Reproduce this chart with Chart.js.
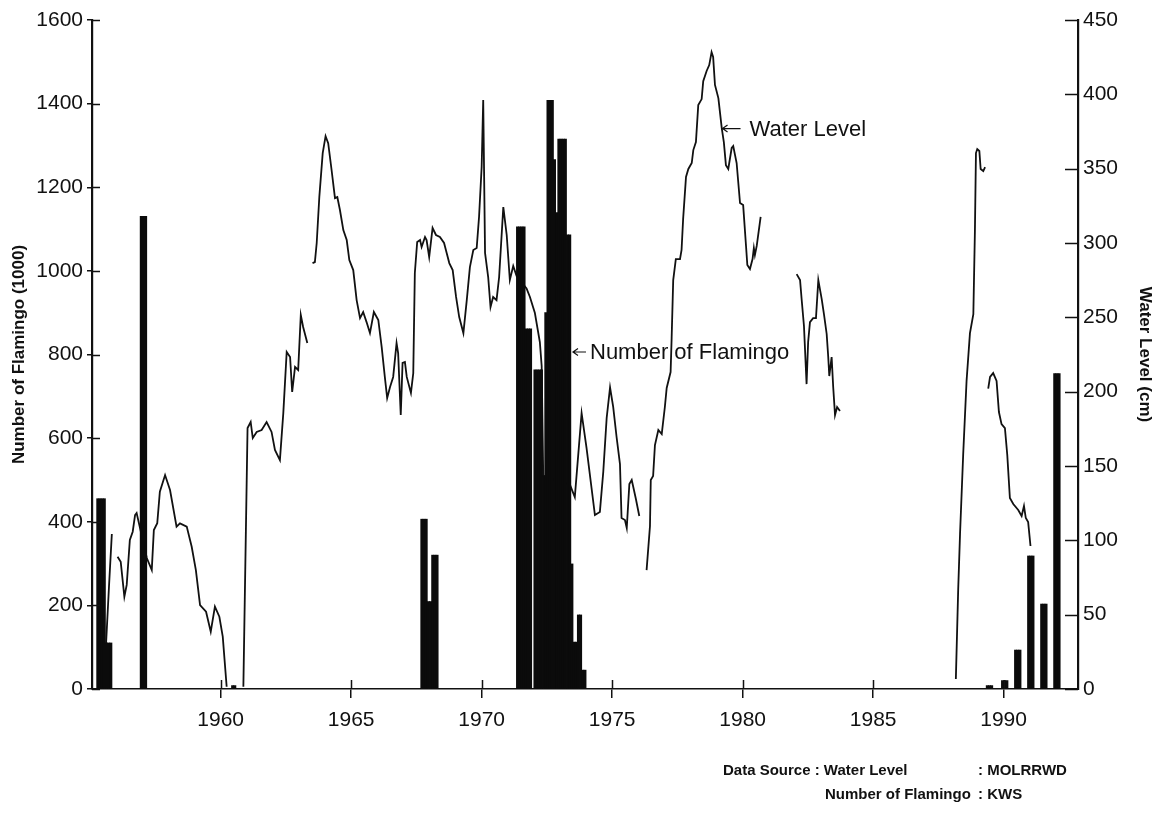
<!DOCTYPE html>
<html>
<head>
<meta charset="utf-8">
<title>Water Level and Number of Flamingo</title>
<script src="https://cdn.jsdelivr.net/npm/chart.js@4.4.0/dist/chart.umd.min.js"></script>
<style>
  html, body { margin: 0; padding: 0; background: #fff; }
  #caixa { position: relative; width: 1157px; height: 815px; }
</style>
</head>
<body>
<div id="caixa"><canvas id="grafico"></canvas></div>
<script>
// Number of flamingo (1000), one bar per surveyed month
const flamingoMonths = [
  '1955-04', '1955-05', '1955-06', '1955-07', '1955-08', '1955-09', '1955-10',
  '1956-12', '1957-01', '1957-02',
  '1960-06', '1960-07',
  '1967-09', '1967-10', '1967-11', '1967-12', '1968-01', '1968-02', '1968-03', '1968-04',
  '1971-05', '1971-06', '1971-07', '1971-08', '1971-09', '1971-10', '1971-11', '1971-12',
  '1972-01', '1972-02', '1972-03', '1972-04', '1972-05', '1972-06', '1972-07', '1972-08',
  '1972-09', '1972-10', '1972-11', '1972-12', '1973-01', '1973-02', '1973-03', '1973-04',
  '1973-05', '1973-06', '1973-07', '1973-08', '1973-09', '1973-10', '1973-11', '1973-12',
  '1989-05', '1989-06', '1989-07', '1989-12', '1990-01', '1990-02',
  '1990-06', '1990-07', '1990-08', '1990-12', '1991-01', '1991-02',
  '1991-06', '1991-07', '1991-08', '1991-12', '1992-01', '1992-02'
];
const flamingoCounts = [
  455, 455, 455, 455, 110, 110, 110,
  1130, 1130, 1130,
  8, 8,
  406, 406, 406, 209, 209, 320, 320, 320,
  1105, 1105, 1105, 1105, 861, 861, 861, 0,
  763, 763, 763, 763, 510, 900, 1408, 1408,
  1408, 1266, 1139, 1315, 1315, 1315, 1315, 1086,
  1086, 299, 112, 112, 177, 177, 45, 45,
  8, 8, 8, 20, 20, 20,
  93, 93, 93, 318, 318, 318,
  203, 203, 203, 754, 754, 754
];

// Water level (cm); a null level marks a break in the record
const waterYears = [
  1955.61, 1955.72, 1955.83, 1955.95,
  1956.05, 1956.17, 1956.31, 1956.40, 1956.52, 1956.63, 1956.72, 1956.78,
  1957.17, 1957.36, 1957.44, 1957.57, 1957.67, 1957.87, 1958.06, 1958.31, 1958.44,
  1958.70, 1958.89, 1959.05, 1959.21, 1959.44, 1959.62, 1959.78, 1959.95, 1960.08, 1960.23,
  1960.50,
  1960.87, 1961.03, 1961.15, 1961.23, 1961.38, 1961.57, 1961.76, 1961.95, 1962.08, 1962.27,
  1962.40, 1962.53, 1962.66, 1962.74, 1962.85, 1962.97, 1963.07, 1963.16, 1963.32,
  1963.42,
  1963.52, 1963.61, 1963.68, 1963.78, 1963.91, 1964.02, 1964.12, 1964.25, 1964.38, 1964.47,
  1964.57, 1964.70, 1964.83, 1964.93, 1965.08, 1965.21, 1965.34, 1965.46, 1965.59, 1965.72,
  1965.87, 1966.04, 1966.17, 1966.29, 1966.38, 1966.49, 1966.61, 1966.74, 1966.80, 1966.90,
  1966.97, 1967.06, 1967.13, 1967.29, 1967.38, 1967.44, 1967.53, 1967.64, 1967.70, 1967.83,
  1967.89, 1967.99, 1968.12, 1968.25, 1968.40, 1968.56, 1968.66, 1968.76, 1968.89, 1969.02,
  1969.14, 1969.30, 1969.43, 1969.55, 1969.68, 1969.81, 1969.90, 1970.00, 1970.06, 1970.13,
  1970.25, 1970.34, 1970.44, 1970.57, 1970.67, 1970.83, 1970.96, 1971.08, 1971.21, 1971.34,
  1971.72, 1971.85, 1972.04, 1972.23, 1972.30, 1972.36,
  1973.38, 1973.57, 1973.83, 1974.02, 1974.34, 1974.53, 1974.66, 1974.79, 1974.92, 1975.04,
  1975.17, 1975.30, 1975.36, 1975.49, 1975.56, 1975.66, 1975.75, 1975.81, 1975.91, 1976.04,
  1976.18,
  1976.32, 1976.45, 1976.48, 1976.57, 1976.64, 1976.77, 1976.90, 1977.02, 1977.09, 1977.24,
  1977.28, 1977.34, 1977.44, 1977.60, 1977.66, 1977.72, 1977.83, 1977.92, 1978.05, 1978.11,
  1978.21, 1978.30, 1978.43, 1978.49, 1978.62, 1978.72, 1978.81, 1978.87, 1978.94, 1979.07,
  1979.20, 1979.28, 1979.36, 1979.45, 1979.58, 1979.64, 1979.77, 1979.90, 1980.02, 1980.13,
  1980.18, 1980.28, 1980.38, 1980.43, 1980.47, 1980.54, 1980.69,
  1981.40,
  1982.07, 1982.20, 1982.26, 1982.35, 1982.45, 1982.51, 1982.58, 1982.70, 1982.81, 1982.90,
  1983.03, 1983.12, 1983.22, 1983.28, 1983.32, 1983.41, 1983.47, 1983.54, 1983.62, 1983.73,
  1986.00,
  1988.17, 1988.26, 1988.33, 1988.45, 1988.58, 1988.71, 1988.84, 1988.90, 1988.94, 1988.99,
  1989.07, 1989.12, 1989.22, 1989.29,
  1989.35,
  1989.41, 1989.48, 1989.60, 1989.73, 1989.82, 1989.92, 1990.05, 1990.14, 1990.24, 1990.37,
  1990.56, 1990.69, 1990.78, 1990.85, 1990.94, 1991.03
];
const waterLevels = [
  30.9, 68.6, 104.3, null,
  89.0, 85.6, 62.1, 70.0, 100.2, 105.8, 117.0, 118.4,
  88.1, 80.0, 106.9, 111.5, 132.7, 143.9, 133.8, 109.2, 111.4,
  109.2, 95.7, 80.0, 56.5, 52.0, 38.5, 55.4, 48.6, 35.2, 1.5,
  null,
  1.5, 175.5, 179.6, 168.8, 172.9, 174.2, 179.6, 172.9, 160.8, 154.0,
  185.6, 226.7, 223.3, 199.8, 216.6, 214.6, 251.6, 243.5, 232.7,
  null,
  286.5, 287.2, 300.0, 330.9, 360.5, 371.9, 367.2, 349.1, 330.2, 330.9,
  322.2, 308.7, 302.0, 288.5, 281.8, 261.6, 249.5, 253.6, 246.8, 239.4,
  253.6, 248.2, 230.0, 209.9, 195.7, 203.1, 209.9, 232.7, 226.0, 184.3,
  219.3, 219.9, 209.9, 199.1, 212.5, 279.8, 300.7, 302.0, 297.3, 304.0,
  302.0, 290.6, 310.1, 305.4, 304.0, 300.0, 293.3, 286.5, 281.8, 263.7,
  250.2, 239.4, 261.6, 283.8, 295.3, 296.6, 317.5, 351.1, 396.2, 293.3,
  277.1, 256.9, 263.7, 261.6, 277.1, 324.2, 305.4, 275.1, 284.5, 277.8,
  269.4, 263.7, 252.9, 233.4, 217.2, 143.3,
  137.5, 129.1, 185.6, 162.1, 117.0, 119.1, 146.0, 182.3, 202.8, 189.7,
  169.5, 151.3, 115.0, 113.7, 108.3, 137.9, 140.6, 135.9, 127.8, 116.4,
  null,
  80.0, 109.6, 140.6, 143.3, 164.1, 174.2, 171.5, 189.7, 202.5, 213.2,
  236.1, 275.1, 289.2, 289.2, 295.3, 316.1, 344.4, 349.8, 353.8, 362.5,
  367.9, 392.8, 396.8, 408.9, 415.7, 419.7, 428.4, 425.1, 406.3, 397.5,
  377.3, 367.9, 352.4, 349.8, 363.9, 365.2, 353.8, 326.9, 325.5, 298.0,
  285.2, 282.5, 289.2, 296.6, 291.9, 298.0, 317.5,
  null,
  279.1, 275.1, 262.3, 244.2, 205.1, 233.4, 246.8, 249.5, 249.5, 275.1,
  262.3, 251.6, 238.8, 223.3, 210.5, 223.3, 203.1, 184.3, 189.7, 187.0,
  null,
  6.7, 67.3, 104.3, 157.4, 207.2, 239.4, 252.2, 308.1, 360.5, 363.2,
  361.9, 349.8, 348.4, 351.1,
  null,
  202.0, 209.9, 212.5, 207.2, 186.3, 178.2, 175.5, 157.4, 128.5, 124.4,
  120.4, 116.4, 123.1, 115.0, 112.3, 96.2
];

// tick labels
const yearTicks = [1960, 1965, 1970, 1975, 1980, 1985, 1990];
const flamingoTicks = [0, 200, 400, 600, 800, 1000, 1200, 1400, 1600];
const waterTicks = [0, 50, 100, 150, 200, 250, 300, 350, 400, 450];

const FONTE = "'Liberation Sans', Arial, Helvetica, sans-serif";
const TINTA = '#111';

Chart.defaults.font.family = FONTE;
Chart.defaults.color = TINTA;

const mesParaAno = (mes) => {
    const [ano, m] = mes.split('-').map(Number);
    return ano + (m - 0.5) / 12;
};

const dadosBarras = flamingoMonths.map((mes, i) => ({ x: mesParaAno(mes), y: flamingoCounts[i] }));
const dadosLinha = waterYears.map((ano, i) => ({ x: ano, y: waterLevels[i] }));

const fixarTicks = (valores) => (escala) => {
    escala.ticks = valores.map(v => ({ value: v }));
};
const semSeparador = (v) => String(v);

const seta = (ctx, x, y, comprimento) => {
    ctx.beginPath();
    ctx.moveTo(x + comprimento, y);
    ctx.lineTo(x, y);
    ctx.moveTo(x + 5, y - 3.5);
    ctx.lineTo(x, y);
    ctx.lineTo(x + 5, y + 3.5);
    ctx.stroke();
};

// inner halves of the tick marks, the two arrow labels and the source note
const notas = {
    id: 'notas',
    afterDraw(chart) {
        const { ctx, chartArea, scales } = chart;
        const { x, y, y2 } = scales;
        ctx.save();
        ctx.strokeStyle = TINTA;
        ctx.fillStyle = TINTA;
        ctx.lineWidth = 1.5;

        ctx.beginPath();
        yearTicks.forEach(v => {
            const px = Math.round(x.getPixelForValue(v)) + 0.5;
            ctx.moveTo(px, chartArea.bottom);
            ctx.lineTo(px, chartArea.bottom - 9);
        });
        flamingoTicks.forEach(v => {
            const py = Math.round(y.getPixelForValue(v)) + 0.5;
            ctx.moveTo(chartArea.left, py);
            ctx.lineTo(chartArea.left + 8, py);
        });
        waterTicks.forEach(v => {
            const py = Math.round(y2.getPixelForValue(v)) + 0.5;
            ctx.moveTo(chartArea.right - 13, py);
            ctx.lineTo(chartArea.right, py);
        });
        ctx.stroke();

        ctx.lineWidth = 1.2;
        ctx.font = `22px ${FONTE}`;
        ctx.textBaseline = 'middle';
        ctx.textAlign = 'left';

        const wx = x.getPixelForValue(1979.23);
        const wy = y2.getPixelForValue(377);
        seta(ctx, wx, wy, 18);
        ctx.fillText('Water Level', wx + 27, wy + 1);

        const fx = x.getPixelForValue(1973.5);
        const fy = y.getPixelForValue(806);
        seta(ctx, fx, fy, 13);
        ctx.fillText('Number of Flamingo', fx + 17, fy + 1);

        ctx.font = `bold 15px ${FONTE}`;
        ctx.fillText('Data Source : Water Level', 723, 771);
        ctx.fillText(': MOLRRWD', 978, 771);
        ctx.fillText('Number of Flamingo', 825, 795);
        ctx.fillText(': KWS', 978, 795);
        ctx.restore();
    }
};

new Chart(document.getElementById('grafico'), {
    type: 'bar',
    data: {
        datasets: [
            {
                type: 'bar',
                label: 'Number of Flamingo',
                data: dadosBarras,
                yAxisID: 'y',
                backgroundColor: '#0b0b0b',
                borderWidth: 0,
                barPercentage: 1,
                categoryPercentage: 1,
                inflateAmount: 0.4,
                order: 0
            },
            {
                type: 'line',
                label: 'Water Level',
                data: dadosLinha,
                yAxisID: 'y2',
                borderColor: TINTA,
                borderWidth: 1.8,
                pointRadius: 0,
                tension: 0,
                spanGaps: false,
                fill: false,
                order: 1
            }
        ]
    },
    options: {
        responsive: true,
        maintainAspectRatio: false,
        animation: false,
        layout: { padding: { top: 20, right: 0, bottom: 0, left: 0 } },
        plugins: {
            legend: { display: false },
            tooltip: { enabled: false }
        },
        scales: {
            x: {
                type: 'linear',
                min: 1955.07,
                max: 1992.85,
                offset: false,
                afterBuildTicks: fixarTicks(yearTicks),
                afterFit: (s) => { s.height = 126; },
                ticks: { font: { size: 21 }, padding: 10, maxRotation: 0, autoSkip: false, callback: semSeparador },
                grid: { offset: false, drawOnChartArea: false, drawTicks: true, tickLength: 9, color: TINTA, lineWidth: 1.5 },
                border: { display: true, color: TINTA, width: 1.5 }
            },
            y: {
                position: 'left',
                min: 0,
                max: 1600,
                afterBuildTicks: fixarTicks(flamingoTicks),
                afterFit: (s) => { s.width = 92; },
                ticks: { font: { size: 21 }, padding: 4, callback: semSeparador },
                grid: { drawOnChartArea: false, drawTicks: true, tickLength: 5, color: TINTA, lineWidth: 1.5 },
                border: { display: true, color: TINTA, width: 2.2 },
                title: {
                    display: true,
                    text: 'Number of Flamingo (1000)',
                    font: { size: 17, weight: 'bold' },
                    padding: { top: 9, bottom: 0 }
                }
            },
            y2: {
                position: 'right',
                min: 0,
                max: 450,
                afterBuildTicks: fixarTicks(waterTicks),
                afterFit: (s) => { s.width = 79; },
                ticks: { font: { size: 21 }, padding: 5, callback: semSeparador },
                grid: { drawOnChartArea: false, drawTicks: false },
                border: { display: true, color: TINTA, width: 2.2 },
                title: {
                    display: true,
                    text: 'Water Level (cm)',
                    font: { size: 17, weight: 'bold' },
                    padding: { top: 2, bottom: 0 }
                }
            }
        }
    },
    plugins: [notas]
});
</script>
</body>
</html>
